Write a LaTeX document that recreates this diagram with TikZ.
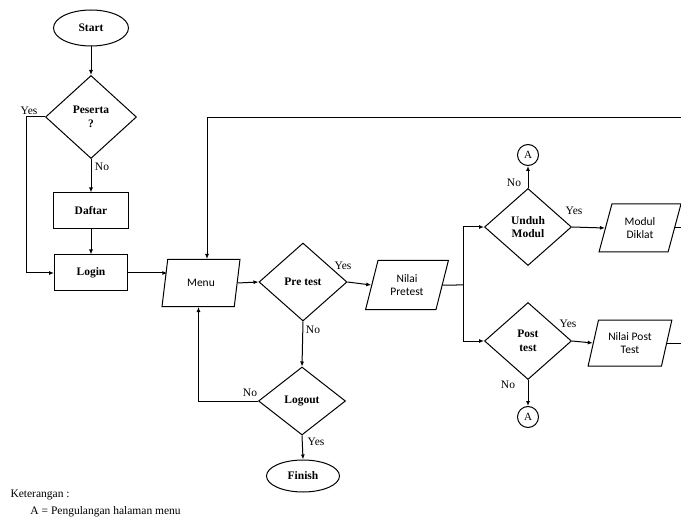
\documentclass[tikz,border=0pt]{standalone}
\usepackage{fontspec}
\setmainfont{Liberation Serif}
\newfontfamily\calfont{Carlito}
\usetikzlibrary{shapes.geometric,arrows.meta,calc}
\begin{document}
\begin{tikzpicture}[x=1pt,y=-1pt, line width=1pt,
  font=\fontsize{11}{12}\selectfont,
  base/.style={draw, inner sep=1pt, align=center},
  term/.style={base, ellipse, font=\fontsize{11.5}{12}\selectfont\bfseries},
  proc/.style={base, rectangle, font=\fontsize{11.5}{12}\selectfont\bfseries},
  dec/.style={base, diamond, inner sep=0pt, font=\fontsize{11.5}{13.5}\selectfont\bfseries},
  io/.style={base, trapezium, trapezium left angle=72, trapezium right angle=108,
    trapezium stretches=true, font=\calfont\fontsize{11.5}{13}\selectfont},
  conn/.style={base, circle, minimum size=21pt, inner sep=0pt},
  arr/.style={-{Latex[length=5pt,width=4pt]}},
  lbl/.style={inner sep=0pt, font=\fontsize{11.5}{12}\selectfont}
]
\useasboundingbox (0,0) rectangle (681,524);

% nodes
\node[term, minimum width=75pt, minimum height=36pt] (Start) at (91,28) {Start};
\node[dec, minimum width=91pt, minimum height=83pt] (Peserta) at (91,117) {Peserta\\?};
\node[proc, minimum width=75pt, minimum height=36pt] (Daftar) at (91,211) {Daftar};
\node[proc, minimum width=73pt, minimum height=36pt] (Login) at (91,273) {Login};
\node[io, trapezium left angle=75, trapezium right angle=105, minimum width=78pt, minimum height=47pt] (Menu) at (201,283) {Menu};
\node[dec, minimum width=88pt, minimum height=78pt] (Pretest) at (303,282) {Pre test};
\node[io, minimum width=83pt, minimum height=49pt] (NilaiPre) at (407,285) {Nilai\\Pretest};
\node[dec, minimum width=87pt, minimum height=77pt] (Unduh) at (528,227) {Unduh\\Modul};
\node[dec, minimum width=87pt, minimum height=77pt] (Post) at (528,341) {Post\\test};
\node[conn] (A1) at (528,155) {A};
\node[conn] (A2) at (528,417) {A};
\node[io, minimum width=82pt, minimum height=48pt] (Modul) at (640,228) {Modul\\Diklat};
\node[io, minimum width=84pt, minimum height=46pt] (NilaiPost) at (630,343) {Nilai Post\\Test};
\node[dec, minimum width=87pt, minimum height=68pt] (Logout) at (302,401) {Logout};
\node[term, minimum width=73pt, minimum height=32pt] (Finish) at (303,476) {Finish};

\node[lbl, anchor=west] (ket) at (10,495) {Keterangan :};
\node[lbl, anchor=west] (ketA) at (30,512) {A = Pengulangan halaman menu};

% coordinates
\coordinate (yesL) at (26,117);
\coordinate (topR) at (681,118);
\coordinate (topL) at (207,118);
\coordinate (split) at (463,285);

% connectors
\draw[arr] (Start) -- (Peserta.north);
\draw[arr] (Peserta.south) -- (Daftar.north);
\draw[arr] (Daftar) -- (Login);
\draw[arr] (Peserta.west) -- (yesL) |- (Login.west);
\draw[arr] (Login.east) -- ($(Login.east -| Menu.west)+(3,0)$);
\draw[arr] (Menu.east) -- (Pretest.west);
\draw[arr] (Pretest.east) -- (NilaiPre.west);
\draw (NilaiPre.east) -- (split);
\draw (split |- Unduh.west) -- (split |- Post.west);
\draw[arr] (split |- Unduh.west) -- (Unduh.west);
\draw[arr] (split |- Post.west) -- (Post.west);
\draw[arr] (Unduh.north) -- (A1.south);
\draw[arr] (Unduh.east) -- (Modul.west);
\draw (Modul.east) -- (Modul.east -| topR);
\draw[arr] (Post.east) -- (NilaiPost.west);
\draw (NilaiPost.east) -- (NilaiPost.east -| topR);
\draw[arr] (Post.south) -- (A2.north);
\draw[arr] (Pretest.south) -- (Logout.north);
\draw[arr] (Logout.west) -| ([xshift=-2.5pt]Menu.south);
\draw[arr] (Logout.south) -- (Finish.north);
\draw[arr] (topR) -- (topL) -- (topL |- Menu.north);

% labels
\node[lbl] (lYes1) at (29,111) {Yes};
\node[lbl] (lNo1) at (102,167) {No};
\node[lbl] (lYes2) at (343,266) {Yes};
\node[lbl] (lNo2) at (514,183) {No};
\node[lbl] (lYes3) at (574,211) {Yes};
\node[lbl] (lYes4) at (568,324) {Yes};
\node[lbl] (lNo3) at (508,385) {No};
\node[lbl] (lNo4) at (313,330) {No};
\node[lbl] (lNo5) at (250,393) {No};
\node[lbl] (lYes5) at (316,442) {Yes};
\end{tikzpicture}
\end{document}
